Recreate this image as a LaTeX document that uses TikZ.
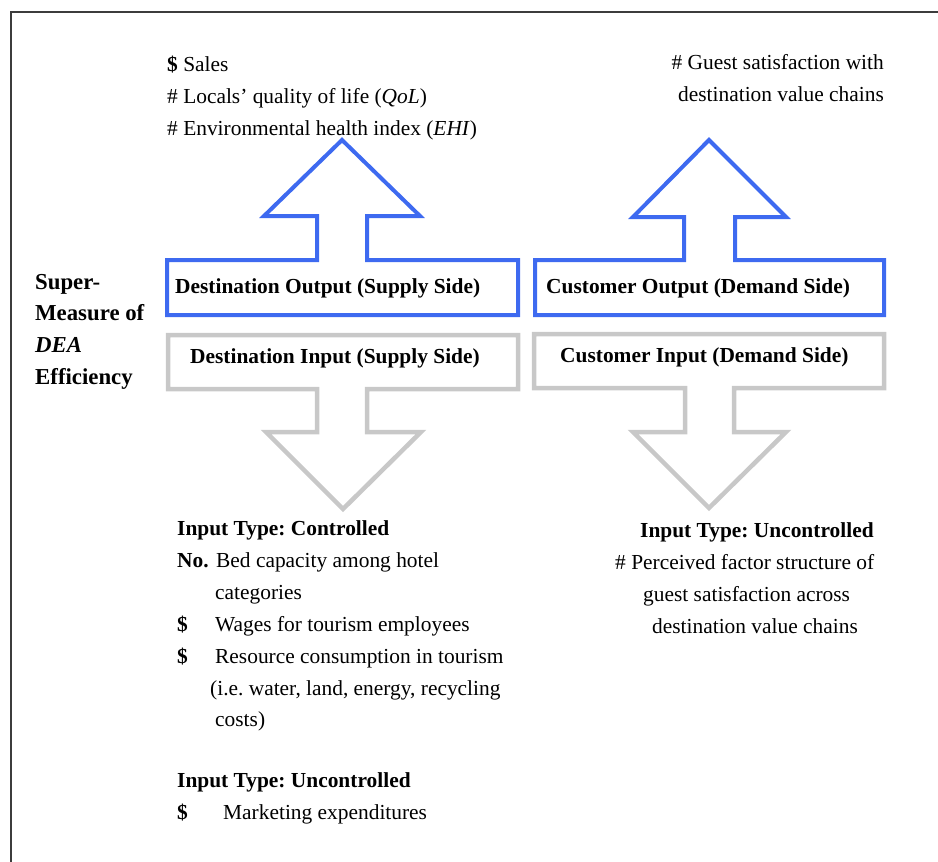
\documentclass[tikz,border=0pt]{standalone}
\usepackage{fontspec}
\setmainfont{Liberation Serif}
\frenchspacing
\definecolor{arrowblue}{RGB}{62,106,240}
\definecolor{arrowgray}{RGB}{200,200,200}
\definecolor{framegray}{RGB}{60,60,60}
\begin{document}
\frenchspacing
\begin{tikzpicture}[x=1pt,y=-1pt,
  txt/.style={anchor=base west, inner sep=0pt, font=\fontsize{21.4}{32}\selectfont},
  btxt/.style={anchor=base west, inner sep=0pt, font=\fontsize{21.4}{32}\selectfont\bfseries},
  sidetxt/.style={anchor=base west, inner sep=0pt, font=\fontsize{22.8}{32}\selectfont\bfseries},
  outarrow/.style={draw=arrowblue, line width=4pt, miter limit=10},
  inarrow/.style={draw=arrowgray, line width=4.5pt, miter limit=10}]
\useasboundingbox (0,0) rectangle (938,862);
% frame
\draw[line width=1.5pt, framegray] (11,880) -- (11,12) -- (950,12);

% output arrows (blue)
\draw[outarrow] (167,260) -- (317,260) -- (317,216) -- (264,216) -- (342,140) -- (420,216) -- (367,216) -- (367,260) -- (518,260) -- (518,315) -- (167,315) -- cycle;
\draw[outarrow] (535,260) -- (684,260) -- (684,217) -- (633,217) -- (709,140) -- (786,217) -- (735,217) -- (735,260) -- (884,260) -- (884,315) -- (535,315) -- cycle;

% input arrows (gray)
\draw[inarrow] (168,335) -- (518,335) -- (518,389) -- (367,389) -- (367,432) -- (421,432) -- (343,509) -- (266,432) -- (317,432) -- (317,389) -- (168,389) -- cycle;
\draw[inarrow] (534,334) -- (884,334) -- (884,388) -- (734,388) -- (734,432) -- (786,432) -- (709,508) -- (633,432) -- (685,432) -- (685,388) -- (534,388) -- cycle;

% box labels
\node[btxt] (dout) at (175,293) {Destination Output (Supply Side)};
\node[btxt] (cout) at (546,293) {Customer Output (Demand Side)};
\node[btxt] (din) at (190,363) {Destination Input (Supply Side)};
\node[btxt] (cin) at (560,362) {Customer Input (Demand Side)};

% left label
\node[sidetxt] (sm1) at (35,289) {Super-};
\node[sidetxt] (sm2) at (35,320) {Measure of};
\node[sidetxt] (sm3) at (35,352) {\itshape DEA};
\node[sidetxt] (sm4) at (35,384) {Efficiency};

% outputs top-left
\node[txt] (o1) at (167,71) {\textbf{\$} Sales};
\node[txt] (o2) at (167,103) {\# Locals' quality of life (\textit{QoL})};
\node[txt] (o3) at (167,135) {\# Environmental health index (\textit{EHI})};

% outputs top-right
\node[txt, anchor=base east] (g1) at (884,69) {\# Guest satisfaction with};
\node[txt, anchor=base east] (g2) at (884,101) {destination value chains};

% inputs bottom-left
\node[btxt] (it1) at (177,535) {Input Type: Controlled};
\node[btxt] (n1) at (177,567) {No.};
\node[txt] (n1t) at (216,567) {Bed capacity among hotel};
\node[txt] (n1c) at (215,599) {categories};
\node[btxt] (w1) at (177,631) {\$};
\node[txt] (w1t) at (215,631) {Wages for tourism employees};
\node[btxt] (r1) at (177,663) {\$};
\node[txt] (r1t) at (215,663) {Resource consumption in tourism};
\node[txt] (r1b) at (210,695) {(i.e. water, land, energy, recycling};
\node[txt] (r1c) at (215,726) {costs)};
\node[btxt] (it2) at (177,787) {Input Type: Uncontrolled};
\node[btxt] (m1) at (177,819) {\$};
\node[txt] (m1t) at (223,819) {Marketing expenditures};

% inputs bottom-right
\node[btxt] (it3) at (640,537) {Input Type: Uncontrolled};
\node[txt] (p1) at (615,569) {\# Perceived factor structure of};
\node[txt] (p2) at (643,601) {guest satisfaction across};
\node[txt] (p3) at (652,633) {destination value chains};
\end{tikzpicture}
\end{document}
